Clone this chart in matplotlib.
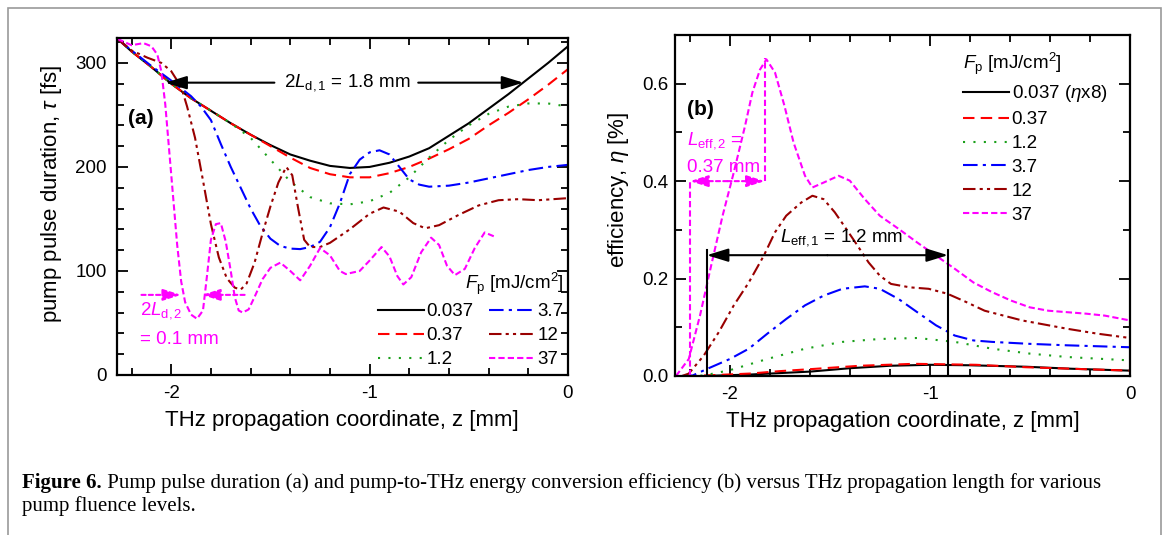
import matplotlib
matplotlib.use("Agg")
from matplotlib import pyplot as plt
from matplotlib.lines import Line2D
from matplotlib.patches import Rectangle
from matplotlib.ticker import MultipleLocator, FormatStrFormatter

plt.rcParams["font.family"] = ["Liberation Sans", "DejaVu Sans"]
plt.rcParams["mathtext.fontset"] = "custom"
plt.rcParams["mathtext.rm"] = "Liberation Sans"
plt.rcParams["mathtext.it"] = "Liberation Sans:italic"
plt.rcParams["mathtext.bf"] = "Liberation Sans:bold"
plt.rcParams["axes.unicode_minus"] = False

# ---- panel (a): pump pulse duration [fs] vs z [mm]
za_0037 = [-2.27, -2.2, -2.1, -2.0, -1.9, -1.8, -1.7, -1.6, -1.5, -1.4, -1.3, -1.2,
           -1.1, -1.0, -0.9, -0.8, -0.7, -0.6, -0.5, -0.4, -0.3, -0.2, -0.1, 0.0]
tau_0037 = [323, 311, 296, 280, 266, 254, 242, 231, 221, 212, 206, 201,
            199, 200, 204, 210, 218, 230, 242, 256, 270, 285, 300, 316]

za_037 = [-2.27, -2.2, -2.1, -2.0, -1.9, -1.8, -1.7, -1.6, -1.5, -1.4, -1.3, -1.2,
          -1.1, -1.0, -0.9, -0.8, -0.7, -0.6, -0.5, -0.4, -0.3, -0.2, -0.1, 0.0]
tau_037 = [323, 311, 296, 280, 266, 254, 242, 231, 220, 209, 199, 193,
           190, 190, 194, 200, 208, 217, 227, 240, 252, 265, 279, 294]

za_12 = [-2.27, -2.2, -2.1, -2.0, -1.9, -1.8, -1.7, -1.6, -1.5, -1.4, -1.3, -1.2,
         -1.1, -1.0, -0.9, -0.8, -0.7, -0.6, -0.5, -0.4, -0.3, -0.2, -0.1, 0.0]
tau_12 = [323, 311, 296, 280, 266, 254, 242, 228, 207, 186, 171, 165,
          164, 167, 175, 190, 209, 226, 240, 251, 258, 261, 261, 258]

za_37 = [-2.27, -2.2, -2.1, -2.0, -1.9, -1.85, -1.8, -1.75, -1.7, -1.65, -1.6, -1.55,
         -1.5, -1.45, -1.4, -1.35, -1.3, -1.25, -1.2, -1.15, -1.1, -1.05, -1.0, -0.95,
         -0.9, -0.85, -0.8, -0.75, -0.7, -0.6, -0.5, -0.4, -0.3, -0.2, -0.1, 0.0]
tau_37 = [323, 312, 297, 283, 268, 258, 245, 222, 200, 180, 160, 143,
          131, 124, 121.5, 121, 123, 128, 142, 165, 193, 207, 214, 216,
          212, 200, 188, 183, 181, 182, 185, 189, 193, 197, 200, 202]

za_120 = [-2.27, -2.2, -2.12, -2.05, -2.0, -1.95, -1.92, -1.88, -1.84, -1.80, -1.76,
          -1.72, -1.68, -1.65, -1.62, -1.58, -1.54, -1.5, -1.46, -1.42, -1.39, -1.36,
          -1.33, -1.3, -1.25, -1.2, -1.1, -1.0, -0.93, -0.85, -0.78, -0.72, -0.65,
          -0.55, -0.45, -0.35, -0.25, -0.15, 0.0]
tau_120 = [323, 312, 305, 300, 292, 277, 258, 228, 187, 145, 113,
           93, 84, 82, 88, 108, 136, 162, 185, 200, 192, 160,
           130, 123, 123, 127, 140, 155, 161, 157, 146, 141, 144,
           154, 163, 168, 169, 168, 170]

za_370 = [-2.27, -2.2, -2.14, -2.1, -2.07, -2.05, -2.03, -2.01, -1.99, -1.97, -1.95,
          -1.93, -1.9, -1.87, -1.84, -1.82, -1.80, -1.775, -1.75, -1.725, -1.70, -1.68,
          -1.66, -1.64, -1.61, -1.58, -1.54, -1.5, -1.45, -1.4, -1.35, -1.3, -1.25,
          -1.2, -1.15, -1.12, -1.05, -1.0, -0.94, -0.9, -0.86, -0.83, -0.79, -0.74,
          -0.69, -0.65, -0.61, -0.57, -0.52, -0.47, -0.42, -0.37]
tau_370 = [323, 317, 319, 316, 308, 292, 260, 215, 170, 125, 90,
           70, 58, 54, 62, 95, 130, 145, 146, 128, 100, 75,
           62, 60, 63, 75, 92, 103, 108, 100, 91, 105, 122,
           115, 100, 97, 100, 110, 123, 114, 95, 87, 94, 118,
           132, 125, 105, 96, 102, 122, 137, 133]

# ---- panel (b): efficiency [%] vs z [mm]
zb_0037 = [-2.13, -1.9, -1.75, -1.6, -1.4, -1.2, -1.0, -0.8, -0.52, -0.3, 0.0]
eta_0037 = [0.0, 0.003, 0.006, 0.009, 0.016, 0.021, 0.023, 0.022, 0.019, 0.015, 0.011]

zb_037 = [-2.13, -1.9, -1.75, -1.6, -1.35, -1.08, -0.77, -0.52, -0.3, 0.0]
eta_037 = [0.001, 0.005, 0.010, 0.014, 0.021, 0.025, 0.023, 0.018, 0.015, 0.011]

zb_12 = [-2.2, -2.131, -2.0, -1.813, -1.625, -1.438, -1.251, -1.064, -0.876, -0.689,
         -0.502, -0.315, 0.0]
eta_12 = [0.0, 0.001, 0.012, 0.035, 0.056, 0.070, 0.076, 0.078, 0.070, 0.056,
          0.046, 0.039, 0.032]

zb_37 = [-2.24, -2.187, -2.112, -2.0, -1.906, -1.813, -1.719, -1.625, -1.532, -1.438,
         -1.326, -1.251, -1.157, -1.064, -0.970, -0.876, -0.783, -0.689, -0.502,
         -0.315, 0.0]
eta_37 = [0.0, 0.001, 0.015, 0.035, 0.056, 0.087, 0.117, 0.145, 0.165, 0.179,
          0.184, 0.179, 0.158, 0.131, 0.104, 0.083, 0.073, 0.070, 0.066,
          0.063, 0.059]

zb_120 = [-2.24, -2.206, -2.131, -2.056, -1.981, -1.906, -1.831, -1.775, -1.719, -1.644,
          -1.588, -1.532, -1.476, -1.419, -1.363, -1.307, -1.251, -1.195, -1.101,
          -1.007, -0.914, -0.820, -0.727, -0.633, -0.539, -0.446, -0.315, -0.165, 0.0]
eta_120 = [0.0, 0.005, 0.042, 0.090, 0.145, 0.192, 0.247, 0.295, 0.329, 0.356,
           0.370, 0.363, 0.336, 0.302, 0.268, 0.233, 0.206, 0.189, 0.182,
           0.179, 0.169, 0.152, 0.134, 0.124, 0.114, 0.107, 0.097, 0.087, 0.078]

zb_370 = [-2.27, -2.206, -2.15, -2.094, -2.037, -1.981, -1.925, -1.888, -1.850, -1.818,
          -1.775, -1.728, -1.682, -1.625, -1.588, -1.532, -1.457, -1.401, -1.326,
          -1.251, -1.157, -1.064, -0.970, -0.876, -0.783, -0.689, -0.596, -0.502,
          -0.408, -0.315, -0.221, -0.127, 0.0]
eta_370 = [0.0, 0.035, 0.124, 0.227, 0.329, 0.418, 0.513, 0.582, 0.629, 0.650,
           0.623, 0.555, 0.479, 0.411, 0.387, 0.397, 0.411, 0.401, 0.363,
           0.329, 0.302, 0.274, 0.247, 0.220, 0.192, 0.172, 0.155, 0.141,
           0.134, 0.131, 0.128, 0.124, 0.114]

labels = ["0.037", "0.37", "1.2", "3.7", "12", "37"]
colors = ["black", "#ff0000", "#1aa01a", "#0000ff", "#990000", "#ff00ff"]
styles = ["-", (0, (5.5, 3)), (0, (1, 4)), (0, (7, 2.5, 1.5, 2.5)),
          (0, (6, 2, 1.5, 2, 1.5, 2)), (0, (3, 1.5))]

FS = 13.5    # ticks, legends, annotations
LFS = 16     # axis labels
fig = plt.figure(figsize=(11.68, 5.35), dpi=100)
ax1 = fig.add_axes([0.0999, 0.2991, 0.3864, 0.630])
ax2 = fig.add_axes([0.5779, 0.2972, 0.3896, 0.6374])

series_a = [(za_0037, tau_0037), (za_037, tau_037), (za_12, tau_12),
            (za_37, tau_37), (za_120, tau_120), (za_370, tau_370)]
series_b = [(zb_0037, eta_0037), (zb_037, eta_037), (zb_12, eta_12),
            (zb_37, eta_37), (zb_120, eta_120), (zb_370, eta_370)]

for (x, y), c, ls in zip(series_a, colors, styles):
    ax1.plot(x, y, color=c, linestyle=ls, lw=1.5)
for (x, y), c, ls in zip(series_b, colors, styles):
    ax2.plot(x, y, color=c, linestyle=ls, lw=1.5)

for ax in (ax1, ax2):
    ax.set_xlim(-2.275, 0)
    ax.xaxis.set_major_locator(MultipleLocator(1))
    ax.xaxis.set_minor_locator(MultipleLocator(0.2))
    ax.tick_params(which="both", direction="in", top=True, right=True, width=1.3,
                   labelsize=FS)
    ax.tick_params(which="major", length=8)
    ax.tick_params(which="minor", length=5)
    for s in ax.spines.values():
        s.set_linewidth(1.6)
    ax.set_xlabel("THz propagation coordinate, z [mm]", fontsize=LFS, labelpad=6)

ax1.set_ylim(0, 324)
ax1.yaxis.set_major_locator(MultipleLocator(100))
ax1.yaxis.set_minor_locator(MultipleLocator(20))
ax1.tick_params(axis="y", pad=7)
ax1.tick_params(axis="x", pad=7)
ax1.set_ylabel("pump pulse duration, $\\tau$ [fs]", fontsize=LFS, labelpad=8)
ax1.yaxis.label.set_y(0.537)

ax2.set_ylim(0, 0.70)
ax2.yaxis.set_major_locator(MultipleLocator(0.2))
ax2.yaxis.set_minor_locator(MultipleLocator(0.1))
ax2.yaxis.set_major_formatter(FormatStrFormatter("%.1f"))
ax2.tick_params(axis="y", pad=5)
ax2.tick_params(axis="x", pad=7)
ax2.set_ylabel("efficiency, $\\eta$ [%]", fontsize=LFS, labelpad=8)
ax2.yaxis.label.set_y(0.545)

# legends
handles = [Line2D([], [], color=c, linestyle=ls, lw=1.5) for c, ls in zip(colors, styles)]
title = "$F_{\\rm p}$ [mJ/cm$^2$]"
ax1.legend(handles, labels, ncol=2, loc="lower right", bbox_to_anchor=(0.99, 0.02),
           title=title, alignment="right", fontsize=FS, title_fontsize=FS,
           frameon=False, handlelength=2.45, handletextpad=0.15, labelspacing=0.36,
           columnspacing=0.8, borderpad=0, borderaxespad=0)
labels_b = ["0.037 ($\\eta$x8)"] + labels[1:]
ax2.legend(handles, labels_b, loc="upper right", bbox_to_anchor=(0.95, 0.955),
           title=title, alignment="left", fontsize=FS, title_fontsize=FS,
           frameon=False, handlelength=2.45, handletextpad=0.15, labelspacing=0.36,
           borderpad=0, borderaxespad=0)

# annotations (a)
mag = "#ff00ff"
ax1.text(-2.22, 247, "(a)", fontsize=15, fontweight="bold", va="center")
ax1.text(-1.115, 281, "2$L_{\\rm d,1}$ = 1.8 mm", fontsize=FS, ha="center", va="center")
blk = dict(arrowstyle="-|>,head_length=1.3,head_width=0.4", color="black", lw=1.5,
           shrinkA=0, shrinkB=0, mutation_scale=10)
ax1.annotate("", xy=(-2.03, 281), xytext=(-1.48, 281), arrowprops=blk)
ax1.annotate("", xy=(-0.225, 281), xytext=(-0.755, 281), arrowprops=blk)

mgp = dict(arrowstyle="-|>,head_length=1.1,head_width=0.35", color=mag, lw=1.5,
           linestyle=(0, (2, 1.5)), shrinkA=0, shrinkB=0, mutation_scale=10)
ax1.annotate("", xy=(-1.95, 77), xytext=(-2.15, 77), arrowprops=mgp)
ax1.annotate("", xy=(-1.845, 77), xytext=(-1.63, 77), arrowprops=mgp)
ax1.text(-2.155, 62, "2$L_{\\rm d,2}$", fontsize=FS, color=mag, va="center")
ax1.text(-2.155, 34, "= 0.1 mm", fontsize=FS, color=mag, va="center")

# annotations (b)
ax2.text(-2.215, 0.547, "(b)", fontsize=15, fontweight="bold", va="center")
ax2.text(-2.215, 0.483, "$L_{\\rm eff,2}$ =", fontsize=FS, color=mag, va="center")
ax2.text(-2.215, 0.428, "0.37 mm", fontsize=FS, color=mag, va="center")
ax2.plot([-2.2, -2.2], [0, 0.40], color=mag, lw=1.5, linestyle=(0, (3, 1.5)))
ax2.plot([-1.826, -1.826], [0.40, 0.652], color=mag, lw=1.5, linestyle=(0, (3, 1.5)))
ax2.annotate("", xy=(-2.2, 0.40), xytext=(-2.013, 0.40), arrowprops=mgp)
ax2.annotate("", xy=(-1.826, 0.40), xytext=(-2.013, 0.40), arrowprops=mgp)

ax2.plot([-2.116, -2.116], [0, 0.258], color="black", lw=1.5)
ax2.plot([-0.91, -0.91], [0, 0.258], color="black", lw=1.5)
ax2.annotate("", xy=(-2.116, 0.248), xytext=(-1.513, 0.248), arrowprops=blk)
ax2.annotate("", xy=(-0.91, 0.248), xytext=(-1.513, 0.248), arrowprops=blk)
ax2.text(-1.443, 0.285, "$L_{\\rm eff,1}$ = 1.2 mm", fontsize=FS, ha="center", va="center")

# caption and frame
fig.patches.append(Rectangle((8 / 1168, -0.05), (1161 - 8) / 1168, 1.05 - 8 / 535,
                             transform=fig.transFigure, fill=False,
                             edgecolor="#9a9a9a", lw=1.2))
cap_fs = 15
t1 = fig.text(22 / 1168, 1 - 488 / 535, "Figure 6.", fontsize=cap_fs,
              fontweight="bold", family="Liberation Serif", va="baseline")
ax1.annotate(" Pump pulse duration (a) and pump-to-THz energy conversion efficiency (b) "
             "versus THz propagation length for various",
             xy=(1, 0), xycoords=t1, va="bottom", ha="left", fontsize=cap_fs,
             family="Liberation Serif", annotation_clip=False)
fig.text(22 / 1168, 1 - 511 / 535, "pump fluence levels.", fontsize=cap_fs,
         family="Liberation Serif", va="baseline")

fig.savefig("out.png", dpi=100)
plt.close("all")
